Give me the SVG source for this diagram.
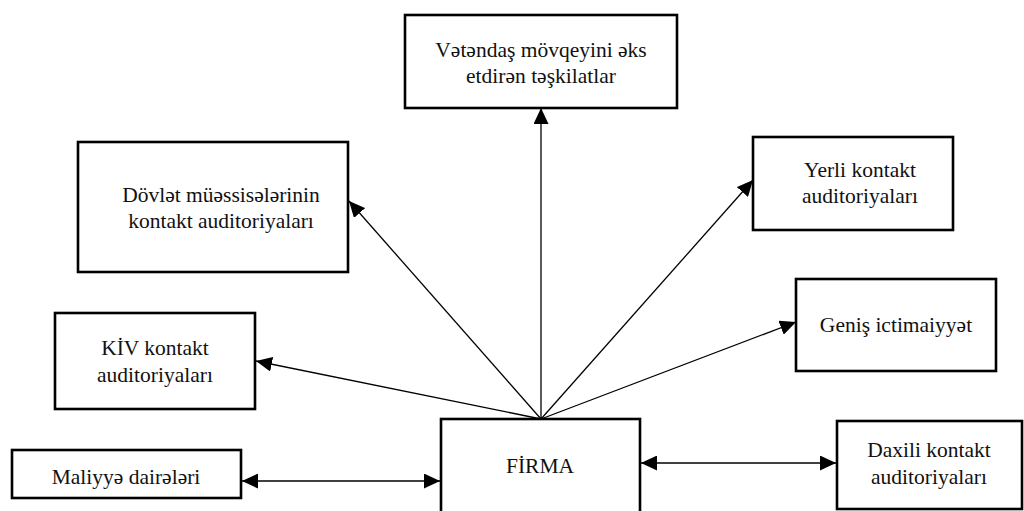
<svg xmlns="http://www.w3.org/2000/svg" width="1024" height="511" viewBox="0 0 1024 511">
  <style>
    .box { fill: #ffffff; stroke: #000000; stroke-width: 2.6; }
    .lbl { font-family: "Liberation Serif", "Times New Roman", serif; font-size: 21.5px; fill: #111111; text-anchor: middle; }
    .link { stroke: #000000; stroke-width: 1.3; fill: none; }
  </style>
  <defs>
    <marker id="arrow" markerUnits="userSpaceOnUse" markerWidth="17" markerHeight="15" refX="16" refY="7.5" orient="auto-start-reverse">
      <path d="M0,0 L16,7.5 L0,15 Z" fill="#000000"/>
    </marker>
  </defs>

  <rect width="1024" height="511" fill="#ffffff"/>

  <!-- connectors: rays from the top of FİRMA, plus two two-way links -->
  <g id="connectors">
    <line class="link" x1="541" y1="430" x2="541" y2="108" marker-end="url(#arrow)"/>
    <line class="link" x1="541" y1="419" x2="349" y2="201" marker-end="url(#arrow)"/>
    <line class="link" x1="541" y1="419" x2="256" y2="361" marker-end="url(#arrow)"/>
    <line class="link" x1="541" y1="419" x2="753" y2="180" marker-end="url(#arrow)"/>
    <line class="link" x1="541" y1="419" x2="796" y2="322" marker-end="url(#arrow)"/>
    <polyline class="link" points="536.5,419 541,424.5 545.5,419"/>
    <line class="link" x1="242" y1="481" x2="440" y2="481" marker-start="url(#arrow)" marker-end="url(#arrow)"/>
    <line class="link" x1="641" y1="463" x2="836" y2="463" marker-start="url(#arrow)" marker-end="url(#arrow)"/>
  </g>

  <g id="node-vetendas">
    <rect class="box" x="405" y="15" width="272" height="93"/>
    <text class="lbl" font-family="Liberation Serif" x="541" y="57">Vətəndaş mövqeyini əks</text>
    <text class="lbl" font-family="Liberation Serif" x="541" y="83">etdirən təşkilatlar</text>
  </g>

  <g id="node-dovlet">
    <rect class="box" x="78" y="142" width="270" height="130"/>
    <text class="lbl" font-family="Liberation Serif" x="221" y="202">Dövlət müəssisələrinin</text>
    <text class="lbl" font-family="Liberation Serif" x="221" y="228">kontakt auditoriyaları</text>
  </g>

  <g id="node-yerli">
    <rect class="box" x="753" y="137" width="200" height="93"/>
    <text class="lbl" font-family="Liberation Serif" x="860" y="177">Yerli kontakt</text>
    <text class="lbl" font-family="Liberation Serif" x="860" y="203">auditoriyaları</text>
  </g>

  <g id="node-genis">
    <rect class="box" x="796" y="279" width="200" height="92"/>
    <text class="lbl" font-family="Liberation Serif" x="896" y="332">Geniş ictimaiyyət</text>
  </g>

  <g id="node-kiv">
    <rect class="box" x="55" y="313" width="200" height="96"/>
    <text class="lbl" font-family="Liberation Serif" x="155" y="355">KİV kontakt</text>
    <text class="lbl" font-family="Liberation Serif" x="155" y="382">auditoriyaları</text>
  </g>

  <g id="node-maliyye">
    <rect class="box" x="12" y="450" width="229" height="48"/>
    <text class="lbl" font-family="Liberation Serif" x="126" y="484">Maliyyə dairələri</text>
  </g>

  <g id="node-firma">
    <rect class="box" x="441" y="419" width="199" height="100"/>
    <text class="lbl" font-family="Liberation Serif" x="540" y="473">FİRMA</text>
  </g>

  <g id="node-daxili">
    <rect class="box" x="837" y="421" width="185" height="88"/>
    <text class="lbl" font-family="Liberation Serif" x="929" y="457">Daxili kontakt</text>
    <text class="lbl" font-family="Liberation Serif" x="929" y="484">auditoriyaları</text>
  </g>
</svg>
